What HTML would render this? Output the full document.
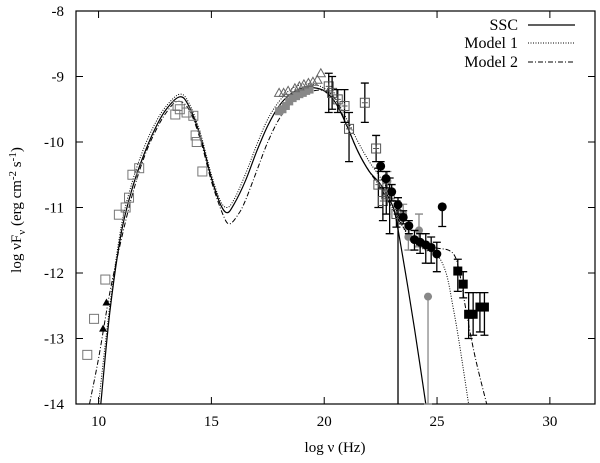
<!DOCTYPE html>
<html><head><meta charset="utf-8"><style>
html,body{margin:0;padding:0;background:#fff}
svg{display:block;font-family:"Liberation Serif",serif}
</style></head><body>
<svg id="chart" width="600" height="463" viewBox="0 0 600 463">
<g id="axes"></g>
<g id="curves"></g>
<g id="points"></g>
<g id="legend">
<text x="518" y="30" text-anchor="end" font-size="16">SSC</text>
<line x1="528" y1="25" x2="575" y2="25" stroke="#000" stroke-width="1.2"/>
<text x="518" y="48" text-anchor="end" font-size="16">Model 1</text>
<line x1="528" y1="43" x2="575" y2="43" stroke="#000" stroke-width="1" stroke-dasharray="1,1.5"/>
<text x="518" y="67" text-anchor="end" font-size="16">Model 2</text>
<line x1="528" y1="62" x2="575" y2="62" stroke="#000" stroke-width="1" stroke-dasharray="5,2,1,2"/>
</g>
<text x="335" y="452" text-anchor="middle" font-size="15">log ν (Hz)</text>
<text transform="translate(21,210) rotate(-90)" text-anchor="middle" font-size="15">log νF<tspan font-size="11" dy="4">ν</tspan><tspan dy="-4"> (erg cm</tspan><tspan font-size="11" dy="-5">-2</tspan><tspan dy="5"> s</tspan><tspan font-size="11" dy="-5">-1</tspan><tspan dy="5">)</tspan></text>
</svg>
<script>
const xTicks=[10,15,20,25,30];
const yTicks=[-8,-9,-10,-11,-12,-13,-14];
const sscX=[10.1,10.5,11,11.5,12,12.5,13,13.6,14,14.5,15,15.4,15.7,16,16.5,17,17.5,18,18.5,19,19.5,20,20.5,21,21.5,22,22.5,23,23.2,23.6,24,24.5];
const sscY=[-14,-12.6,-11.4,-10.7,-10.2,-9.8,-9.5,-9.31,-9.45,-9.9,-10.55,-10.95,-11.08,-10.95,-10.6,-10.15,-9.75,-9.45,-9.27,-9.18,-9.17,-9.22,-9.4,-9.75,-10.15,-10.45,-10.65,-10.95,-11.2,-12,-12.85,-14];
const m1X=[10.0,10.5,11,11.5,12,12.5,13,13.6,14,14.5,15,15.4,15.7,16,16.5,17,17.5,18,18.5,19,19.5,20,20.5,21,21.5,22,22.5,23,23.5,24,24.5,25,25.4,25.7,26,26.4];
const m1Y=[-14,-12.5,-11.3,-10.6,-10.1,-9.72,-9.45,-9.27,-9.4,-9.85,-10.5,-10.9,-11.0,-10.88,-10.5,-10.05,-9.65,-9.38,-9.2,-9.12,-9.12,-9.18,-9.35,-9.65,-10.0,-10.3,-10.55,-10.85,-11.3,-11.55,-11.65,-11.72,-12.0,-12.5,-13.1,-14];
const m2X=[9.6,10,10.5,11,11.5,12,12.5,13,13.5,14,14.5,15,15.5,15.8,16.2,16.5,17,17.5,18,18.5,19,19.5,20,20.5,21,21.5,22,22.5,23,23.5,24,24.5,25,25.5,25.8,26,26.3,26.7,27.2];
const m2Y=[-14,-13.3,-12.3,-11.5,-10.8,-10.25,-9.85,-9.55,-9.38,-9.5,-9.95,-10.6,-11.1,-11.25,-11.1,-10.9,-10.45,-10.0,-9.65,-9.42,-9.28,-9.22,-9.22,-9.35,-9.75,-10.15,-10.45,-10.7,-11.0,-11.3,-11.5,-11.58,-11.62,-11.65,-11.75,-12.0,-12.6,-13.3,-14];
const openSqX=[9.5,9.8,10.3,10.9,11.2,11.35,11.5,11.8,13.4,13.5,13.6,13.9,14.2,14.3,14.35,14.6];
const openSqY=[-13.25,-12.7,-12.1,-11.11,-11.0,-10.85,-10.5,-10.4,-9.58,-9.45,-9.5,-9.55,-9.6,-9.9,-10.0,-10.45];
const triX=[10.2,10.35];
const triY=[-12.85,-12.45];
const graySqX=[18.0,18.15,18.3,18.45,18.6,18.75,18.9,19.05,19.2,19.35];
const graySqY=[-9.53,-9.5,-9.45,-9.38,-9.33,-9.3,-9.27,-9.25,-9.22,-9.2];
const openTriX=[18.0,18.2,18.4,18.7,18.9,19.1,19.3,19.5,19.7,19.85];
const openTriY=[-9.25,-9.25,-9.22,-9.18,-9.15,-9.12,-9.1,-9.08,-9.05,-8.95];
const xsqX=[20.2,20.35,20.6,20.9,21.1,21.8,22.3,22.4,22.6,22.75,22.9,23.2];
const xsqY=[-9.15,-9.25,-9.35,-9.45,-9.8,-9.4,-10.1,-10.65,-10.9,-10.8,-10.8,-11.1];
const xsqLo=[-9.55,-9.5,-9.55,-9.7,-10.3,-9.7,-10.3,-11.0,-11.2,-11.1,-11.4,-11.3];
const xsqHi=[-8.95,-9.0,-9.2,-9.2,-9.55,-9.1,-9.9,-10.4,-10.7,-10.55,-10.55,-10.9];
const circX=[22.5,22.74,22.99,23.27,23.5,23.75,24.0,24.25,24.5,24.74,24.99,25.23];
const circY=[-10.37,-10.56,-10.76,-10.96,-11.15,-11.28,-11.49,-11.53,-11.57,-11.61,-11.71,-10.99];
const circLo=[-10.45,-10.7,-10.9,-11.1,-11.25,-11.4,-11.65,-11.7,-11.85,-11.85,-11.98,-11.29];
const circHi=[-10.3,-10.45,-10.65,-10.85,-11.05,-11.2,-11.35,-11.4,-11.4,-11.45,-11.53,-10.99];
const bsqX=[25.92,26.16,26.4,26.6,26.9,27.1];
const bsqY=[-11.97,-12.17,-12.63,-12.63,-12.52,-12.52];
const bsqLo=[-12.28,-12.38,-13.0,-12.95,-12.9,-12.95];
const bsqHi=[-11.79,-11.98,-12.3,-12.3,-12.3,-12.3];
const gcX=[22.8,23.5,23.73,24.2,24.6];
const gcY=[-10.6,-11.1,-11.45,-11.35,-12.36];
const gcLo=[-10.75,-11.25,-11.65,-11.6,-14];
const gcHi=[-10.45,-10.95,-11.3,-11.1,-12.36];

const L=76,R=595,T=11,B=404,XMIN=9,XMAX=32,YMIN=-14,YMAX=-8;
const sx=v=>L+(v-XMIN)/(XMAX-XMIN)*(R-L);
const sy=v=>B-(v-YMIN)/(YMAX-YMIN)*(B-T);
const NS='http://www.w3.org/2000/svg';
function mk(tag,attrs,parent){const e=document.createElementNS(NS,tag);for(const k in attrs)e.setAttribute(k,attrs[k]);parent.appendChild(e);return e;}
const axes=document.getElementById('axes');
let fr=mk('rect',{x:L,y:T,width:R-L,height:B-T,fill:'none',stroke:'#000','stroke-width':1.2},axes);


xTicks.forEach(v=>{
  const x=sx(v);
  let t=mk('path',{d:`M${x},${B}v-7M${x},${T}v7`,stroke:'#000','stroke-width':1},axes);
  
  
  let tx=mk('text',{x:x,y:B+22,'text-anchor':'middle','font-size':15},axes);
  tx.textContent=v;
  
  
});
yTicks.forEach(v=>{
  const y=sy(v);
  let t=mk('path',{d:`M${L},${y}h7M${R},${y}h-7`,stroke:'#000','stroke-width':1},axes);
  
  
  let tx=mk('text',{x:L-12,y:y+5,'text-anchor':'end','font-size':15},axes);
  tx.textContent=v;
  
  
});
const curves=document.getElementById('curves');
function line(xs,ys,dash,name){
  const P=xs.map((x,i)=>[sx(x),sy(ys[i])]);
  let d='M'+P[0][0].toFixed(1)+','+P[0][1].toFixed(1);
  for(let i=0;i<P.length-1;i++){
    const p0=P[i-1]||P[i],p1=P[i],p2=P[i+1],p3=P[i+2]||P[i+1];
    const c1=[p1[0]+(p2[0]-p0[0])/6,p1[1]+(p2[1]-p0[1])/6];
    const c2=[p2[0]-(p3[0]-p1[0])/6,p2[1]-(p3[1]-p1[1])/6];
    d+=`C${c1[0].toFixed(1)},${c1[1].toFixed(1)} ${c2[0].toFixed(1)},${c2[1].toFixed(1)} ${p2[0].toFixed(1)},${p2[1].toFixed(1)}`;
  }
  let e=mk('path',{d:d,fill:'none',stroke:'#000','stroke-width':dash?1:1.2,'stroke-dasharray':dash||'none','stroke-linejoin':'round'},curves);
  
  
}
line(m1X,m1Y,'1,1.5','model1-curve');
line(m2X,m2Y,'5,2,1,2','model2-curve');
line(sscX,sscY,null,'ssc-curve');
const pts=document.getElementById('points');
function err(x,lo,hi,col){
  const X=sx(x),a=sy(lo),b=sy(hi);
  let e=mk('path',{d:`M${X},${a}V${b}M${X-4},${a}h8M${X-4},${b}h8`,stroke:col,'stroke-width':1.3,fill:'none'},pts);
  
  
}
let v1=mk('line',{x1:sx(23.27),y1:sy(-10.96),x2:sx(23.27),y2:B,stroke:'#000','stroke-width':1.3},pts);


openSqX.forEach((x,i)=>{
  let e=mk('rect',{x:sx(x)-4.5,y:sy(openSqY[i])-4.5,width:9,height:9,fill:'none',stroke:'#777','stroke-width':1},pts);
  
  
});
triX.forEach((x,i)=>{
  const X=sx(x),Y=sy(triY[i]);
  let e=mk('path',{d:`M${X},${Y-4}L${X+4},${Y+3}L${X-4},${Y+3}Z`,fill:'#000'},pts);
  
  
});
graySqX.forEach((x,i)=>{
  let e=mk('rect',{x:sx(x)-4,y:sy(graySqY[i])-4,width:8,height:8,fill:'#888'},pts);
  
  
});
openTriX.forEach((x,i)=>{
  const X=sx(x),Y=sy(openTriY[i]);
  let e=mk('path',{d:`M${X},${Y-4.5}L${X+4.5},${Y+3.5}L${X-4.5},${Y+3.5}Z`,fill:'none',stroke:'#666','stroke-width':1},pts);
  
  
});
xsqX.forEach((x,i)=>{
  err(x,xsqLo[i],xsqHi[i],'#000');
  const X=sx(x),Y=sy(xsqY[i]);
  let e=mk('path',{d:`M${X-4.5},${Y-4.5}h9v9h-9zM${X-3},${Y}h6M${X},${Y-3}v6`,fill:'none',stroke:'#555','stroke-width':1},pts);
  
  
});
gcX.forEach((x,i)=>{
  err(x,gcLo[i],gcHi[i],'#888');
  let e=mk('circle',{cx:sx(x),cy:sy(gcY[i]),r:4,fill:'#888'},pts);
  
  
});
circX.forEach((x,i)=>{
  err(x,circLo[i],circHi[i],'#000');
  let e=mk('circle',{cx:sx(x),cy:sy(circY[i]),r:4.5,fill:'#000'},pts);
  
  
});
bsqX.forEach((x,i)=>{
  err(x,bsqLo[i],bsqHi[i],'#000');
  let e=mk('rect',{x:sx(x)-4.5,y:sy(bsqY[i])-4.5,width:9,height:9,fill:'#000'},pts);
  
  
});
</script>
</body></html>
